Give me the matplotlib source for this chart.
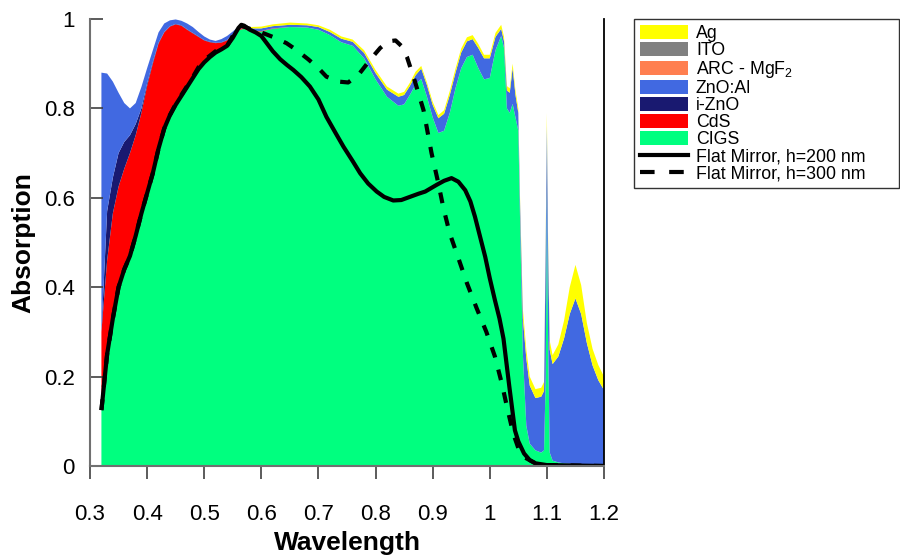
import matplotlib
matplotlib.use("Agg")
import matplotlib.pyplot as plt
from matplotlib.patches import Patch
from matplotlib.lines import Line2D

plt.rcParams['font.family'] = ['Liberation Sans', 'DejaVu Sans']
plt.rcParams['mathtext.fontset'] = 'custom'
plt.rcParams['mathtext.rm'] = 'Liberation Sans'
plt.rcParams['mathtext.default'] = 'regular'

# ---------------- data ----------------
wavelength = [0.32, 0.33, 0.34, 0.35, 0.36, 0.37, 0.38, 0.39, 0.40, 0.41, 0.42, 0.43, 0.44,
              0.45, 0.46, 0.47, 0.48, 0.49, 0.50, 0.51, 0.52, 0.53, 0.54, 0.55, 0.56, 0.57,
              0.58, 0.60, 0.62, 0.65, 0.68, 0.70, 0.72, 0.74, 0.76, 0.78, 0.80, 0.82, 0.84,
              0.85, 0.86, 0.87, 0.88, 0.89, 0.90, 0.91, 0.92, 0.93, 0.94, 0.95, 0.96, 0.97,
              0.98, 0.99, 1.00, 1.01, 1.02, 1.025, 1.03, 1.035, 1.04, 1.045, 1.05, 1.053,
              1.058, 1.064, 1.07, 1.08, 1.09, 1.095, 1.098, 1.10, 1.102, 1.105, 1.11, 1.12,
              1.13, 1.14, 1.15, 1.16, 1.17, 1.18, 1.19, 1.20]

cigs = [0.13, 0.25, 0.33, 0.395, 0.44, 0.47, 0.515, 0.565, 0.61, 0.655, 0.71, 0.755, 0.785,
        0.808, 0.83, 0.852, 0.872, 0.892, 0.908, 0.92, 0.928, 0.935, 0.942, 0.958, 0.975, 0.978,
        0.972, 0.972, 0.978, 0.982, 0.981, 0.976, 0.964, 0.948, 0.94, 0.912, 0.865, 0.826, 0.806,
        0.809, 0.83, 0.853, 0.866, 0.826, 0.78, 0.745, 0.75, 0.79, 0.845, 0.89, 0.915, 0.92,
        0.89, 0.865, 0.868, 0.93, 0.962, 0.935, 0.80, 0.79, 0.81, 0.78, 0.75, 0.55,
        0.25, 0.09, 0.05, 0.035, 0.03, 0.035, 0.2, 0.62, 0.3, 0.03, 0.012, 0.008,
        0.006, 0.005, 0.004, 0.004, 0.003, 0.003, 0.002, 0.002]

cds = [0.17, 0.21, 0.235, 0.23, 0.225, 0.23, 0.225, 0.225, 0.24, 0.245, 0.235, 0.215, 0.198,
       0.18, 0.155, 0.124, 0.096, 0.068, 0.044, 0.028, 0.018, 0.012, 0.01, 0.007, 0.003, 0.002,
       0.002, 0.001, 0.001, 0, 0, 0, 0, 0, 0, 0, 0, 0, 0,
       0, 0, 0, 0, 0, 0, 0, 0, 0, 0, 0, 0, 0,
       0, 0, 0, 0, 0, 0, 0, 0, 0, 0, 0, 0,
       0, 0, 0, 0, 0, 0, 0, 0, 0, 0, 0, 0,
       0, 0, 0, 0, 0, 0, 0, 0]

i_zno = [0, 0.11, 0.08, 0.075, 0.06, 0.04, 0.025, 0.01, 0.006, 0.004, 0.002, 0.001, 0.001,
         0.001, 0.001, 0.001, 0.001, 0.001, 0.001, 0.001, 0.001, 0.001, 0.001, 0.001, 0.001, 0,
         0, 0, 0, 0, 0, 0, 0, 0, 0, 0, 0, 0, 0,
         0, 0, 0, 0, 0, 0, 0, 0, 0, 0, 0, 0, 0,
         0, 0, 0, 0, 0, 0, 0, 0, 0, 0, 0, 0,
         0, 0, 0, 0, 0, 0, 0, 0, 0, 0, 0, 0,
         0, 0, 0, 0, 0, 0, 0, 0]

zno_al = [0.58, 0.308, 0.215, 0.135, 0.087, 0.06, 0.047, 0.048, 0.034, 0.026, 0.023, 0.019, 0.013,
          0.01, 0.01, 0.013, 0.013, 0.01, 0.008, 0.005, 0.004, 0.007, 0.009, 0.006, 0.004, 0.005,
          0.005, 0.006, 0.005, 0.005, 0.005, 0.006, 0.007, 0.008, 0.009, 0.012, 0.014, 0.016, 0.02,
          0.021, 0.02, 0.021, 0.023, 0.026, 0.028, 0.033, 0.038, 0.04, 0.035, 0.035, 0.035, 0.035,
          0.045, 0.047, 0.044, 0.03, 0.016, 0.015, 0.04, 0.045, 0.08, 0.05, 0.04, 0.04,
          0.08, 0.15, 0.13, 0.117, 0.125, 0.133, 0.30, 0.14, 0.20, 0.23, 0.216, 0.237,
          0.279, 0.335, 0.371, 0.336, 0.272, 0.222, 0.19, 0.168]

ag = [0, 0, 0, 0, 0, 0, 0, 0, 0, 0, 0, 0, 0,
      0, 0, 0, 0, 0, 0, 0, 0, 0, 0, 0, 0, 0,
      0.003, 0.004, 0.004, 0.005, 0.004, 0.004, 0.005, 0.005, 0.005, 0.006, 0.007, 0.007, 0.007,
      0.007, 0.007, 0.008, 0.006, 0.006, 0.007, 0.007, 0.008, 0.009, 0.009, 0.009, 0.009, 0.009,
      0.009, 0.008, 0.008, 0.009, 0.009, 0.01, 0.01, 0.01, 0.01, 0.01, 0.01, 0.01,
      0.02, 0.02, 0.02, 0.02, 0.02, 0.02, 0.02, 0.03, 0.02, 0.02, 0.02, 0.027,
      0.04, 0.06, 0.075, 0.065, 0.045, 0.037, 0.034, 0.03]

wl_h200 = [0.32, 0.33, 0.34, 0.35, 0.36, 0.37, 0.38, 0.39, 0.40, 0.41, 0.42, 0.43, 0.44, 0.45,
           0.46, 0.47, 0.48, 0.49, 0.50, 0.51, 0.52, 0.53, 0.54, 0.55, 0.56, 0.565, 0.57, 0.58,
           0.59, 0.60, 0.61, 0.62, 0.633, 0.645, 0.656, 0.67, 0.685, 0.70, 0.714, 0.73, 0.744,
           0.76, 0.773, 0.787, 0.802, 0.815, 0.831, 0.845, 0.86, 0.875, 0.887, 0.907, 0.92,
           0.933, 0.945, 0.957, 0.966, 0.974, 0.983, 0.992, 1.0, 1.009, 1.017, 1.024, 1.034,
           1.044, 1.05, 1.06, 1.07, 1.08, 1.10, 1.15, 1.20]
abs_h200 = [0.125, 0.25, 0.33, 0.40, 0.44, 0.47, 0.515, 0.565, 0.61, 0.655, 0.71, 0.755, 0.785,
            0.808, 0.828, 0.848, 0.868, 0.888, 0.903, 0.915, 0.925, 0.932, 0.94, 0.958, 0.98,
            0.987, 0.985, 0.976, 0.97, 0.962, 0.945, 0.928, 0.91, 0.897, 0.886, 0.87, 0.849,
            0.82, 0.781, 0.745, 0.714, 0.682, 0.655, 0.632, 0.614, 0.602, 0.594, 0.595, 0.602,
            0.609, 0.614, 0.629, 0.638, 0.644, 0.636, 0.617, 0.592, 0.558, 0.513, 0.468, 0.42,
            0.371, 0.33, 0.285, 0.18, 0.08, 0.055, 0.028, 0.013, 0.006, 0.002, 0.001, 0.0]

wl_h300 = [0.32, 0.33, 0.34, 0.35, 0.36, 0.37, 0.38, 0.39, 0.40, 0.41, 0.42, 0.43, 0.44, 0.45,
           0.46, 0.47, 0.48, 0.49, 0.50, 0.52, 0.54, 0.55, 0.56, 0.565, 0.58, 0.60, 0.62, 0.644,
           0.66, 0.682, 0.70, 0.714, 0.735, 0.752, 0.77, 0.79, 0.808, 0.822, 0.835, 0.845, 0.855,
           0.869, 0.884, 0.898, 0.91, 0.919, 0.93, 0.945, 0.96, 0.977, 0.994, 1.009, 1.021, 1.03,
           1.041, 1.05, 1.06, 1.08, 1.10, 1.15, 1.20]
abs_h300 = [0.125, 0.25, 0.33, 0.40, 0.44, 0.47, 0.515, 0.565, 0.61, 0.655, 0.71, 0.755, 0.785,
            0.81, 0.83, 0.85, 0.87, 0.892, 0.908, 0.928, 0.94, 0.962, 0.982, 0.985, 0.978, 0.97,
            0.96, 0.946, 0.932, 0.91, 0.89, 0.871, 0.86, 0.858, 0.875, 0.908, 0.935, 0.95, 0.952,
            0.94, 0.915, 0.86, 0.796, 0.70, 0.632, 0.576, 0.52, 0.465, 0.409, 0.353, 0.30, 0.245,
            0.185, 0.133, 0.073, 0.04, 0.02, 0.006, 0.002, 0.001, 0.0]

layer_names = ['Ag', 'ITO', 'ARC - MgF$_2$', 'ZnO:Al', 'i-ZnO', 'CdS', 'CIGS']
layer_colors = {'Ag': '#FFFF00', 'ITO': '#808080', 'ARC - MgF$_2$': '#FF7F50',
                'ZnO:Al': '#4169E1', 'i-ZnO': '#191970', 'CdS': '#FF0000', 'CIGS': '#00FF7F'}
x_ticks = [0.3, 0.4, 0.5, 0.6, 0.7, 0.8, 0.9, 1.0, 1.1, 1.2]
x_tick_labels = ['0.3', '0.4', '0.5', '0.6', '0.7', '0.8', '0.9', '1', '1.1', '1.2']
y_ticks = [0, 0.2, 0.4, 0.6, 0.8, 1.0]
y_tick_labels = ['0', '0.2', '0.4', '0.6', '0.8', '1']

# ---------------- figure ----------------
fig = plt.figure(figsize=(9, 5.58), dpi=100)
ax = fig.add_axes([90 / 900, 92 / 558, 514 / 900, 447 / 558])

ax.stackplot(wavelength, cigs, cds, i_zno, zno_al, ag,
             colors=[layer_colors['CIGS'], layer_colors['CdS'], layer_colors['i-ZnO'],
                     layer_colors['ZnO:Al'], layer_colors['Ag']],
             linewidth=0, antialiased=True)

ax.plot(wl_h300, abs_h300, color='black', lw=3.0, linestyle=(0, (2.6, 3.0)),
        solid_capstyle='butt', dash_capstyle='butt')
ax.plot(wl_h200, abs_h200, color='black', lw=3.0, solid_capstyle='butt',
        solid_joinstyle='round')

ax.set_xlim(0.3, 1.2)
ax.set_ylim(0, 1.0)
ax.set_xticks(x_ticks)
ax.set_xticklabels(x_tick_labels)
ax.set_yticks(y_ticks)
ax.set_yticklabels(y_tick_labels)

ax.spines['top'].set_visible(False)
ax.spines['right'].set_color('black')
ax.spines['right'].set_linewidth(1.3)
ax.spines['left'].set_color('#707070')
ax.spines['left'].set_linewidth(1.5)
ax.spines['bottom'].set_color('#707070')
ax.spines['bottom'].set_linewidth(1.5)

ax.tick_params(axis='y', direction='in', length=9, width=1.2, color='#404040',
               labelsize=16, pad=11, right=False)
ax.tick_params(axis='x', direction='out', length=9.5, width=1.2, color='#404040',
               labelsize=16, pad=18, top=False)

ax.set_xlabel('Wavelength', fontsize=19, fontweight='bold', labelpad=4)
ax.set_ylabel('Absorption', fontsize=19, fontweight='bold', labelpad=6)

handles = [Patch(facecolor=layer_colors[n], edgecolor='none', label=n) for n in layer_names]
handles.append(Line2D([], [], color='black', lw=3.0, label='Flat Mirror, h=200 nm'))
handles.append(Line2D([], [], color='black', lw=3.0, linestyle=(0, (3.5, 3.5)),
                      label='Flat Mirror, h=300 nm'))

leg_x0, leg_top, leg_w = 634 / 900, 1 - 19 / 558, 265 / 900
leg = fig.legend(handles=handles, loc='upper left',
                 bbox_to_anchor=(leg_x0, leg_top - 0.3, leg_w, 0.3), mode='expand',
                 frameon=True, fancybox=False, edgecolor='black', fontsize=12.75,
                 handlelength=2.7, handleheight=0.8, handletextpad=0.45,
                 labelspacing=0.0, borderpad=0.35, borderaxespad=0)
leg.get_frame().set_linewidth(1.0)

fig.savefig('out.png', dpi=100)
